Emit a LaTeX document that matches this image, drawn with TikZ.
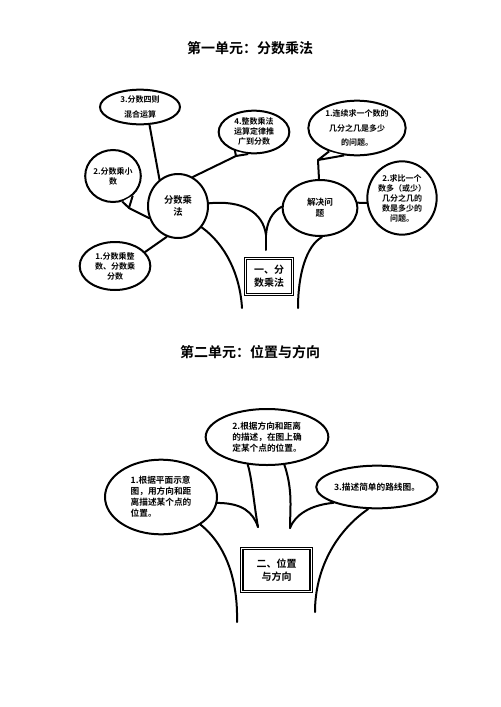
\documentclass[tikz,border=0pt]{standalone}
\usepackage{fontspec}
\setmainfont{Noto Sans CJK SC}[BoldFont=* Bold]
\usetikzlibrary{shapes.geometric}
\tikzset{
  bub/.style={draw, ellipse, line width=1.5pt, inner sep=0pt, align=center, fill=white,
    font=\bfseries\fontsize{6}{7.5}\selectfont},
  ln/.style={line width=1.5pt, line cap=round},
  tail/.style={line width=1.5pt, fill=white, line join=round},
  boxn/.style={draw, double, line width=0.9pt, double distance=0.8pt, inner sep=0pt, align=center,
    font=\bfseries\fontsize{7.5}{9.5}\selectfont},
  ttl/.style={font=\bfseries\fontsize{10.5}{12}\selectfont}
}
\begin{document}
\begin{tikzpicture}[x=0.75pt,y=-0.75pt]
\useasboundingbox (0,0) rectangle (500,707);

% ---------- part 1 ----------
\node[ttl] (t1) at (250,48) {第一单元：分数乘法};

\node[bub, minimum width=45pt, minimum height=48pt, font=\bfseries\fontsize{7}{8.5}\selectfont] (A1) at (178,206) {分数乘\\法};
\node[bub, minimum width=60pt, minimum height=26pt, font=\bfseries\fontsize{6}{11}\selectfont] (A2) at (140,107) {3.分数四则\\混合运算};
\node[bub, minimum width=53pt, minimum height=32pt] (A3) at (254,132) {4.整数乘法\\运算定律推\\广到分数};
\node[bub, minimum width=40pt, minimum height=39pt] (A4) at (113,176) {2.分数乘小\\数};
\node[bub, minimum width=53pt, minimum height=36pt] (A5) at (115,266) {1.分数乘整\\数、分数乘\\分数};
\node[bub, minimum width=56pt, minimum height=42pt, font=\bfseries\fontsize{6.5}{8}\selectfont] (A6) at (320,208) {解决问\\题};
\node[bub, minimum width=73pt, minimum height=41pt, font=\bfseries\fontsize{6}{11}\selectfont] (A7) at (357,128) {1.连续求一个数的\\几分之几是多少\\的问题。};
\node[bub, minimum width=52pt, minimum height=55pt] (A8) at (402,198) {2.求比一个\\数多（或少）\\几分之几的\\数是多少的\\问题。};
\node[boxn, minimum width=35pt, minimum height=27pt] (A9) at (269,276.5) {一、分\\数乘法};

% tails
\coordinate (p3) at (236,156);
\draw[tail] (A3.-105) -- (p3) -- (A3.-135);
\coordinate (p4) at (129,208);
\draw[tail] (A4.-45) -- (p4) -- (A4.-70);
\coordinate (p7) at (318,160);
\draw[tail] (A7.-115) -- (p7) -- (A7.-140);

% connectors
\draw[ln] (A2.-62) -- (A1.125);
\draw[ln] (p3) -- (A1.63);
\draw[ln] (p4) -- (A1.203);
\draw[ln] (A5.25) -- (A1.-110);
\draw[ln] (p7) -- (A6.92);
\draw[ln] (A6.8) -- (A8.188);

% trunk
\coordinate (c1) at (266,235);
\coordinate (c1b) at (266,250);
\coordinate (l1) at (242,308);
\coordinate (r1) at (298,308);
\draw[ln] (A1.5) .. controls (242,200) and (263,212) .. (c1);
\draw[ln] (A6.178) .. controls (272,212) and (267,222) .. (c1);
\draw[ln] (c1) -- (c1b);
\draw[ln] (A1.-42) .. controls (226,245) and (240,275) .. (l1);
\draw[ln] (A6.-86) .. controls (306,246) and (298,275) .. (r1);

% ---------- part 2 ----------
\node[ttl] (t2) at (250,352) {第二单元：位置与方向};

\node[bub, minimum width=92pt, minimum height=42pt, align=left, font=\bfseries\fontsize{6.5}{8}\selectfont] (B1) at (267,437) {2.根据方向和距离\\的描述，在图上确\\定某个点的位置。};
\node[bub, minimum width=84pt, minimum height=56pt, align=left, font=\bfseries\fontsize{6.5}{8.3}\selectfont] (B2) at (161,497) {1.根据平面示意\\图，用方向和距\\离描述某个点的\\位置。};
\node[bub, minimum width=90pt, minimum height=32pt, font=\bfseries\fontsize{6.5}{8}\selectfont] (B3) at (377,487) {3.描述简单的路线图。};
\node[boxn, minimum width=52pt, minimum height=32pt] (B4) at (276.5,570) {二、位置\\与方向};

\coordinate (c2) at (258,527);
\coordinate (c3) at (290,528);
\coordinate (l2) at (237,622);
\coordinate (r2) at (315,612);
\draw[ln] (B1.-125) .. controls (252,478) and (254,505) .. (c2);
\draw[ln] (B2.-6) .. controls (242,503) and (253,512) .. (c2);
\draw[ln] (B1.-58) .. controls (293,490) and (290,510) .. (c3);
\draw[ln] (B3.-160) .. controls (310,505) and (295,515) .. (c3);
\draw[ln] (B2.-35) .. controls (226,545) and (238,580) .. (l2);
\draw[ln] (B3.-112) .. controls (335,532) and (315,570) .. (r2);
\end{tikzpicture}
\end{document}
